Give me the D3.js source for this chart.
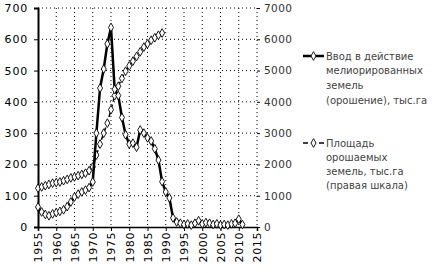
<!DOCTYPE html>
<html><head><meta charset="utf-8">
<script src="https://cdn.jsdelivr.net/npm/d3@7"></script>
<style>body{margin:0;background:#fff}svg{display:block}</style>
</head><body><svg id="c" width="440" height="273"></svg>
<script>
const years1 = d3.range(1955, 2012);
const values1 = [64,48,40,36,42,46,50,55,65,80,96,105,112,118,126,144,300,444,505,585,638,440,420,350,295,265,268,255,310,300,285,275,250,214,145,112,93,29,16,12,8,10,6,12,20,10,14,12,8,10,6,8,6,10,12,25,8];
const years2 = d3.range(1955, 1990);
const values2 = [1240,1280,1320,1360,1400,1420,1440,1480,1520,1570,1600,1640,1680,1720,1800,1920,2300,2650,3000,3320,3750,4200,4500,4750,4980,5150,5300,5450,5600,5750,5850,5970,6050,6130,6200];
const xTicks = d3.range(1955, 2016, 5);
const yTicksL = d3.range(0, 701, 100);
const yTicksR = d3.range(0, 7001, 1000);
const legend1 = ["Ввод в действие","мелиорированных","земель","(орошение), тыс.га"];
const legend2 = ["Площадь","орошаемых","земель, тыс.га","(правая шкала)"];

const svg = d3.select("#c");
const L = 38, R = 257, T = 8, B = 227;
const x = d3.scaleLinear().domain([1955, 2015]).range([L, R]);
const yL = d3.scaleLinear().domain([0, 700]).range([B, T]);
const yR = d3.scaleLinear().domain([0, 7000]).range([B, T]);
const font = "DejaVu Sans, sans-serif";

// grid
const g = svg.append("g");
g.selectAll("line.v").data(xTicks.slice(1)).join("line")
  .attr("x1", d => x(d)).attr("x2", d => x(d)).attr("y1", T).attr("y2", B)
  .attr("stroke", "#000").attr("stroke-dasharray", "1,3").attr("stroke-width", 1);
g.selectAll("line.h").data(yTicksL.slice(1)).join("line")
  .attr("x1", L).attr("x2", R).attr("y1", d => yL(d)).attr("y2", d => yL(d))
  .attr("stroke", "#000").attr("stroke-dasharray", "1,3").attr("stroke-width", 1);

// axes
const axL = svg.append("g").attr("transform", `translate(${L},0)`)
  .call(d3.axisLeft(yL).tickValues(yTicksL).tickSize(4).tickPadding(6));
axL.select(".domain").attr("stroke-width", 2);
axL.selectAll("text").attr("font-family", font).attr("font-size", 11).attr("letter-spacing", 0.8).attr("fill", "#000");

const axR = svg.append("g").attr("transform", `translate(${R},0)`)
  .call(d3.axisRight(yR).tickValues(yTicksR).tickFormat(d3.format("d")).tickSize(3).tickPadding(4));
axR.select(".domain").remove();
axR.selectAll("text").attr("font-family", font).attr("font-size", 10.5).attr("letter-spacing", 0.4).attr("fill", "#333");

const axB = svg.append("g").attr("transform", `translate(0,${B})`)
  .call(d3.axisBottom(x).tickValues(xTicks).tickFormat(d3.format("d")).tickSize(4));
axB.select(".domain").attr("stroke-width", 1.5);
axB.selectAll("text").attr("font-family", font).attr("font-size", 11).attr("letter-spacing", 0.6).attr("fill", "#000")
  .attr("transform", "rotate(-90)").attr("text-anchor", "end")
  .attr("x", -5).attr("y", 0).attr("dy", "0.35em");

// series 2 (dashed)
const d2 = years2.map((yr, i) => [yr, values2[i]]);
svg.append("path").datum(d2)
  .attr("d", d3.line().x(d => x(d[0])).y(d => yR(d[1])))
  .attr("fill", "none").attr("stroke", "#000").attr("stroke-width", 1.5).attr("stroke-dasharray", "5,3");
const diamond = d3.symbol().type(d3.symbolDiamond).size(22);
svg.selectAll("path.m2").data(d2).join("path")
  .attr("d", diamond).attr("transform", d => `translate(${x(d[0])},${yR(d[1])})`)
  .attr("fill", "#fff").attr("stroke", "#000").attr("stroke-width", 0.9);

// series 1 (solid)
const d1 = years1.map((yr, i) => [yr, values1[i]]);
svg.append("path").datum(d1)
  .attr("d", d3.line().x(d => x(d[0])).y(d => yL(d[1])))
  .attr("fill", "none").attr("stroke", "#000").attr("stroke-width", 2.5);
svg.selectAll("path.m1").data(d1).join("path")
  .attr("d", diamond).attr("transform", d => `translate(${x(d[0])},${yL(d[1])})`)
  .attr("fill", "#fff").attr("stroke", "#000").attr("stroke-width", 0.9);

// legend
const lg = svg.append("g");
function legendItem(y0, step, lines, dashed) {
  lg.append("line").attr("x1", 303).attr("x2", 324).attr("y1", y0).attr("y2", y0)
    .attr("stroke", "#000").attr("stroke-width", dashed ? 1.5 : 2.5)
    .attr("stroke-dasharray", dashed ? "5,3" : null);
  lg.append("path").attr("d", diamond).attr("transform", `translate(313.5,${y0})`)
    .attr("fill", "#fff").attr("stroke", "#000").attr("stroke-width", 0.9);
  lines.forEach((t, i) => {
    lg.append("text").attr("x", 326).attr("y", y0 + i * step).attr("dy", "0.35em")
      .attr("font-family", font).attr("font-size", 10).attr("fill", "#444").text(t);
  });
}
legendItem(56, 14.7, legend1, false);
legendItem(143, 14, legend2, true);
</script></body></html>
